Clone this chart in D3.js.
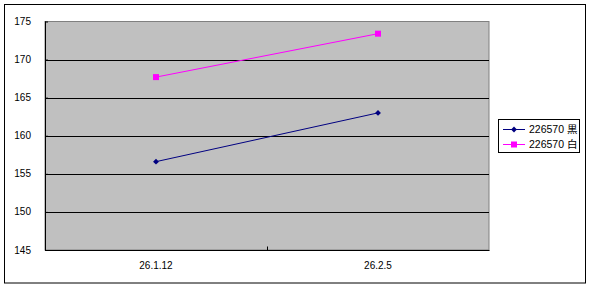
<!DOCTYPE html>
<html><head><meta charset="utf-8">
<script src="https://cdn.jsdelivr.net/npm/d3@7"></script>
<style>body{margin:0;background:#fff}svg{display:block}text{font-family:"Liberation Sans",Arial,"Noto Sans CJK JP",sans-serif}</style>
</head><body>
<svg id="c" width="592" height="288"></svg>
<script>
const categories = ["26.1.12", "26.2.5"];
const seriesNames = ["226570 黒", "226570 白"];
const blackValues = [156.6, 163.0];
const whiteValues = [167.7, 173.4];
const yTicks = [145, 150, 155, 160, 165, 170, 175];

const svg = d3.select("#c");
const L = 45, R = 489, T = 21.5, B = 250;
const x = d3.scaleBand().domain(categories).range([L, R]).padding(0);
const y = d3.scaleLinear().domain([145, 175]).range([B, T]);

// outer border
svg.append("rect").attr("x", 4.5).attr("y", 4.5).attr("width", 581).attr("height", 278.5)
  .attr("fill", "#fff").attr("stroke", "#000").attr("stroke-width", 1);

// plot area
svg.append("rect").attr("x", L).attr("y", T).attr("width", R - L).attr("height", B - T)
  .attr("fill", "#C0C0C0").attr("stroke", "#808080").attr("stroke-width", 1);

// gridlines
svg.append("g").selectAll("line").data(yTicks.filter(d => d > 145 && d < 175)).join("line")
  .attr("x1", L).attr("x2", R).attr("y1", d => Math.round(y(d)) + 0.5).attr("y2", d => Math.round(y(d)) + 0.5)
  .attr("stroke", "#000").attr("stroke-width", 1);

// y axis
const yAxis = d3.axisRight(y).tickValues(yTicks).tickSize(3).tickFormat("");
const gy = svg.append("g").attr("transform", `translate(${L},0)`).call(yAxis);
gy.select(".domain").remove();
gy.selectAll("line").attr("stroke", "#000");
svg.append("line").attr("x1", L + 0.5).attr("x2", L + 0.5).attr("y1", T).attr("y2", B + 0.5).attr("stroke", "#000");
svg.append("g").selectAll("text").data(yTicks).join("text")
  .attr("x", 31).attr("y", d => y(d)).attr("dy", "0.35em").attr("text-anchor", "end")
  .attr("font-size", 10).attr("fill", "#000").text(d => d);

// x axis
svg.append("line").attr("x1", L).attr("x2", R + 0.5).attr("y1", B + 0.5).attr("y2", B + 0.5).attr("stroke", "#000");
const bounds = categories.slice(1).map(c => x(c));
svg.append("g").selectAll("line").data(bounds).join("line")
  .attr("x1", d => Math.round(d) + 0.5).attr("x2", d => Math.round(d) + 0.5)
  .attr("y1", B - 3.5).attr("y2", B).attr("stroke", "#000");
svg.append("g").selectAll("text").data(categories).join("text")
  .attr("x", d => x(d) + x.bandwidth() / 2).attr("y", 269).attr("text-anchor", "middle")
  .attr("font-size", 10).attr("fill", "#000").text(d => d);

const cx = c => x(c) + x.bandwidth() / 2;
const line = d3.line().x((d, i) => cx(categories[i])).y(d => y(d));

// black series
svg.append("path").datum(blackValues).attr("d", line).attr("fill", "none").attr("stroke", "#000080").attr("stroke-width", 1);
svg.append("g").selectAll("path").data(blackValues).join("path")
  .attr("d", d3.symbol(d3.symbolDiamond2, 22)).attr("transform", (d, i) => `translate(${cx(categories[i])},${y(d)})`)
  .attr("fill", "#000080");
// white series
svg.append("path").datum(whiteValues).attr("d", line).attr("fill", "none").attr("stroke", "#FF00FF").attr("stroke-width", 1);
svg.append("g").selectAll("rect").data(whiteValues).join("rect")
  .attr("x", (d, i) => cx(categories[i]) - 3).attr("y", d => y(d) - 3).attr("width", 6).attr("height", 6)
  .attr("fill", "#FF00FF");

// legend
const lg = svg.append("g");
lg.append("rect").attr("x", 498.5).attr("y", 119.5).attr("width", 81).attr("height", 33)
  .attr("fill", "#fff").attr("stroke", "#000");
const colors = ["#000080", "#FF00FF"];
const ly = [129.5, 144.5];
seriesNames.forEach((n, i) => {
  lg.append("line").attr("x1", 503).attr("x2", 525).attr("y1", ly[i]).attr("y2", ly[i]).attr("stroke", colors[i]);
  if (i === 0) lg.append("path").attr("d", d3.symbol(d3.symbolDiamond2, 22)).attr("transform", `translate(514,${ly[i]})`).attr("fill", colors[i]);
  else lg.append("rect").attr("x", 511).attr("y", ly[i] - 3).attr("width", 6).attr("height", 6).attr("fill", colors[i]);
  lg.append("text").attr("x", 529).attr("y", ly[i]).attr("dy", "0.35em").attr("font-size", 10.5).attr("fill", "#000").text(n);
});
</script>
</body></html>
